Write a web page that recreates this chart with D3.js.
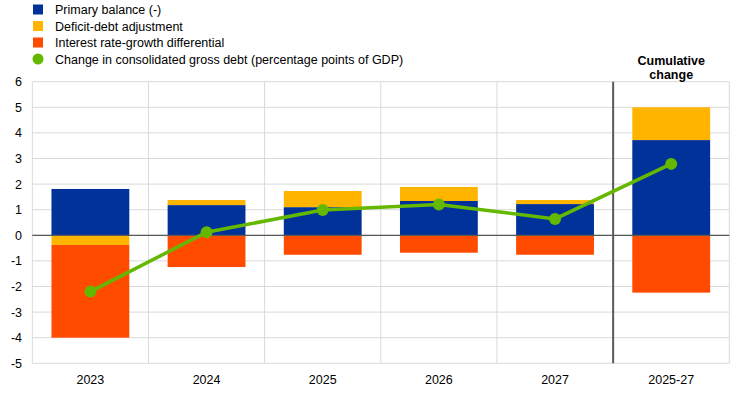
<!DOCTYPE html>
<html><head><meta charset="utf-8">
<script src="https://cdn.jsdelivr.net/npm/d3@7"></script>
<style>body{margin:0;background:#fff}svg{font-family:"Liberation Sans",Arial,sans-serif}</style>
</head><body><svg id="c" width="746" height="393"></svg>
<script>
const categories = ["2023","2024","2025","2026","2027","2025-27"];
const primaryBalance = [1.81, 1.18, 1.10, 1.34, 1.22, 3.72];
const deficitDebt = [-0.38, 0.20, 0.63, 0.55, 0.16, 1.28];
const interestGrowth = [-3.62, -1.24, -0.76, -0.68, -0.76, -2.24];
const debtChange = [-2.2, 0.12, 0.99, 1.2, 0.64, 2.79];
const yTicks = [-5,-4,-3,-2,-1,0,1,2,3,4,5,6];
const seriesNames = ["Primary balance (-)","Deficit-debt adjustment","Interest rate-growth differential","Change in consolidated gross debt (percentage points of GDP)"];
const colors = ["#003299","#FFB400","#FF4B00","#65B800"];

const svg = d3.select("#c");
const x = d3.scaleBand().domain(categories).range([32.3, 729.3]).paddingInner(0.33).paddingOuter(0.165);
const y = d3.scaleLinear().domain([-5, 6]).range([363.3, 81.7]);
const step = x.step();

// grid
const g = svg.append("g");
g.selectAll("line.h").data(yTicks).join("line")
  .attr("x1", 32.3).attr("x2", 729.3).attr("y1", d=>y(d)).attr("y2", d=>y(d))
  .attr("stroke", "#d9d9d9").attr("stroke-width", 1);
const bounds = d3.range(categories.length + 1);
g.selectAll("line.v").data(bounds).join("line")
  .attr("x1", i=>32.3 + i*step).attr("x2", i=>32.3 + i*step)
  .attr("y1", y(6)).attr("y2", y(-5))
  .attr("stroke", i=> i===5 ? "#595959" : "#d9d9d9").attr("stroke-width", i=> i===5 ? 2 : 1);

// y labels
svg.append("g").selectAll("text").data(yTicks).join("text")
  .attr("x", 22).attr("y", d=>y(d)+4.5).attr("text-anchor","end")
  .attr("font-size", 12.5).attr("fill","#000").text(d=>d);

// x labels
svg.append("g").selectAll("text").data(categories).join("text")
  .attr("x", d=>x(d)+x.bandwidth()/2).attr("y", 384).attr("text-anchor","middle")
  .attr("font-size", 12.5).attr("fill","#000").text(d=>d);

// stacked bars
const rows = categories.map((c,i)=>({c, vals:[primaryBalance[i], deficitDebt[i], interestGrowth[i]]}));
const bars = svg.append("g");
rows.forEach(r=>{
  let pos = 0, neg = 0;
  r.vals.forEach((v,k)=>{
    let y0, y1;
    if (v >= 0) { y0 = pos; y1 = pos + v; pos = y1; }
    else { y0 = neg; y1 = neg + v; neg = y1; }
    bars.append("rect")
      .attr("x", x(r.c)).attr("width", x.bandwidth())
      .attr("y", y(Math.max(y0,y1))).attr("height", Math.abs(y(y0)-y(y1)))
      .attr("fill", colors[k]);
  });
});

// zero line
svg.append("line").attr("x1",32.3).attr("x2",729.3).attr("y1",y(0)).attr("y2",y(0))
  .attr("stroke","#595959").attr("stroke-width",1.2);

// debt change line
const line = d3.line().x((d,i)=>x(categories[i])+x.bandwidth()/2).y(d=>y(d));
svg.append("path").datum(debtChange).attr("d", line)
  .attr("fill","none").attr("stroke", colors[3]).attr("stroke-width", 3.5);
svg.append("g").selectAll("circle").data(debtChange).join("circle")
  .attr("cx",(d,i)=>x(categories[i])+x.bandwidth()/2).attr("cy", d=>y(d)).attr("r", 6)
  .attr("fill", colors[3]);

// legend
const leg = svg.append("g");
const legY = [9.5, 26, 42.5, 59];
seriesNames.forEach((n,i)=>{
  if (i < 3) leg.append("rect").attr("x",33).attr("y",legY[i]-5).attr("width",10).attr("height",10).attr("fill",colors[i]);
  else leg.append("circle").attr("cx",38).attr("cy",legY[i]).attr("r",5.5).attr("fill",colors[i]);
  leg.append("text").attr("x",55).attr("y",legY[i]+4.5).attr("font-size",12.5).attr("fill","#000").text(n);
});

// cumulative change title
const cx = x("2025-27") + x.bandwidth()/2;
const t = svg.append("text").attr("text-anchor","middle").attr("font-size",12.5).attr("font-weight","bold").attr("fill","#000");
t.append("tspan").attr("x",cx).attr("y",65).text("Cumulative");
t.append("tspan").attr("x",cx).attr("y",79).text("change");
</script></body></html>
